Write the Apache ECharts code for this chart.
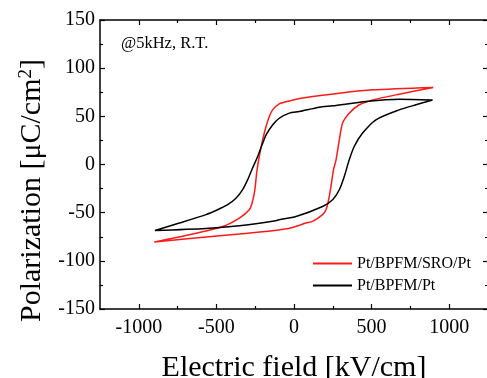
<!DOCTYPE html>
<html>
<head>
<meta charset="utf-8">
<script src="https://cdn.jsdelivr.net/npm/echarts@6/dist/echarts.min.js"></script>
<style>
html,body{margin:0;padding:0;background:#fff;}
#c{width:487px;height:378px;}
</style>
</head>
<body>
<div id="c"></div>
<script>
// Pt/BPFM/SRO/Pt loop (upper branch from +Emax to -Emax, then lower branch back)
const redE = [897, 507, 292, 77, -30, -95, -138, -159, -180, -202, -224, -240, -252, -270, -288, -352, -460, -675, -900,
              -567, -352, -138, -9, 77, 120, 184, 206, 223, 238, 255, 271, 292, 313, 356, 421, 507, 678, 897];
const redP = [80, 77.5, 74, 69.5, 66, 63, 56.7, 49.8, 39.4, 25.6, 8.3, -8, -26, -40, -47, -55.6, -64.3, -73, -80.5,
              -75.3, -72.2, -68.8, -65.3, -60.8, -59, -52, -47, -36.6, -22.8, -5, 4.9, 25.6, 43, 53.3, 62, 67, 73, 80];
// Pt/BPFM/Pt loop
const blackE = [893, 678, 464, 249, 163, 34, -30, -95, -138, -180, -202, -234, -267, -299, -331, -374, -430, -500, -567, -739, -896,
                -567, -352, -138, -95, 13, 184, 249, 292, 324, 356, 388, 442, 528, 678, 786, 893];
const blackP = [67, 67.8, 65.4, 60.9, 59.5, 55, 53.3, 48, 41, 30.8, 22, 8.3, -3.7, -15.9, -26, -35, -42, -47.5, -52, -60.8, -68.5,
                -66.4, -63.6, -59, -57.4, -54, -43.6, -36.6, -26.2, -12.4, 4.9, 18.7, 32.6, 46.4, 56.7, 62, 67];
const seriesNames = ['Pt/BPFM/SRO/Pt', 'Pt/BPFM/Pt'];
const xMajorTicks = [-1000, -500, 0, 500, 1000];
const xMinorTicks = [-750, -250, 250, 750];
const annotation = '@5kHz, R.T.';

const FONT = '"Liberation Serif", "Times New Roman", serif';
const pairs = (a, b) => a.map((v, i) => [v, b[i]]);

const axLine = {show: true, onZero: false, lineStyle: {color: '#000', width: 1.5}};
function xAx(pos, ticks, len, labels, line) {
  return {
    type: 'value', position: pos, min: -1250, max: 1250,
    axisLine: line ? axLine : {show: false, onZero: false},
    axisTick: {show: true, inside: true, length: len, customValues: ticks, lineStyle: {color: '#000', width: 1.2}},
    axisLabel: labels ? {show: true, customValues: ticks, margin: 9, color: '#000', fontSize: 20, fontFamily: FONT,
                         formatter: v => String(v)} : {show: false},
    splitLine: {show: false}
  };
}
function yAx(pos, labels) {
  return {
    type: 'value', position: pos, min: -150, max: 150, interval: 50,
    axisLine: axLine,
    axisTick: {show: true, inside: true, length: 5, lineStyle: {color: '#000', width: 1.2}},
    minorTick: {show: true, splitNumber: 2, length: 3, lineStyle: {color: '#000', width: 1.2}},
    axisLabel: labels ? {show: true, margin: 5, color: '#000', fontSize: 20, fontFamily: FONT,
                         formatter: v => String(v)} : {show: false},
    splitLine: {show: false}
  };
}

const xMain = xAx('bottom', xMajorTicks, 5, true, true);
xMain.name = 'Electric field [kV/cm]';
xMain.nameLocation = 'middle';
xMain.nameGap = 44;
xMain.nameTextStyle = {color: '#000', fontSize: 30, fontFamily: FONT};

const yMain = yAx('left', true);
yMain.name = 'Polarization [μC/cm{sup|2}]';
yMain.nameLocation = 'middle';
yMain.nameGap = 53;
yMain.nameTextStyle = {color: '#000', fontSize: 30, fontFamily: FONT, lineHeight: 30, padding: [0, 52, 0, 0],
  rich: {sup: {fontSize: 19, fontFamily: FONT, color: '#000', verticalAlign: 'top', lineHeight: 19}}};

const chart = echarts.init(document.getElementById('c'), null, {renderer: 'canvas'});
chart.setOption({
  animation: false,
  backgroundColor: '#fff',
  grid: {left: 100, top: 20, width: 388, height: 289, containLabel: false, outerBoundsMode: 'none'},
  xAxis: [
    xMain,
    xAx('bottom', xMinorTicks, 3, false, false),
    xAx('top', xMajorTicks, 5, false, true),
    xAx('top', xMinorTicks, 3, false, false)
  ],
  yAxis: [yMain, yAx('right', false)],
  legend: {
    orient: 'vertical', left: 313, top: 254, padding: 0, itemGap: 3, itemWidth: 39, itemHeight: 2, icon: 'rect',
    textStyle: {color: '#000', fontSize: 16, fontFamily: FONT, lineHeight: 19},
    data: seriesNames
  },
  graphic: [{
    type: 'text', left: 121, top: 35,
    style: {text: annotation, fill: '#000', font: '16.5px ' + FONT}
  }],
  series: [
    {name: seriesNames[0], type: 'line', data: pairs(redE, redP), symbol: 'none', smooth: 0.25,
     lineStyle: {color: '#ff1a1a', width: 1.5}, itemStyle: {color: '#ff1a1a'}},
    {name: seriesNames[1], type: 'line', data: pairs(blackE, blackP), symbol: 'none', smooth: 0.25,
     lineStyle: {color: '#000', width: 1.5}, itemStyle: {color: '#000'}}
  ]
});
</script>
</body>
</html>
